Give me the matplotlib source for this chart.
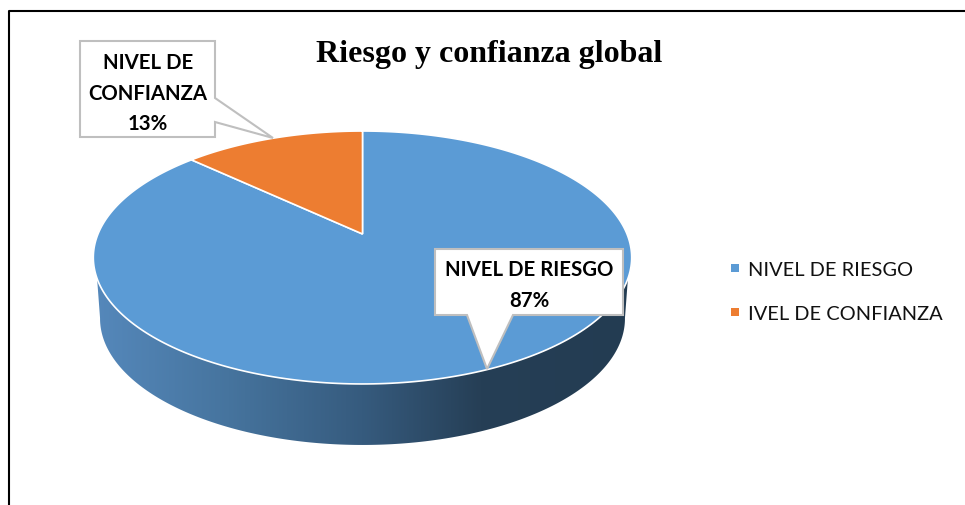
import matplotlib
matplotlib.use('Agg')
import matplotlib.pyplot as plt
import numpy as np
from matplotlib.patches import Polygon, Rectangle

TITLE = 'Riesgo y confianza global'
CATEGORIES = ['NIVEL DE RIESGO', 'NIVEL DE CONFIANZA']
LEGEND_LABELS = ['NIVEL DE RIESGO', 'IVEL DE CONFIANZA']
VALUES = [87, 13]
COLORS = ['#5B9BD5', '#ED7D31']

W, H = 965, 506
CX, CY = 362.5, 235.0
DEPTH = 61.0


def project(theta, scale=1.0, drop=0.0):
    # theta clockwise from 12 o'clock, tilted disc with a bit of perspective
    u, v = np.sin(theta), np.cos(theta)
    k = 0.1858
    d = 1 + k * v
    return CX + scale * 264.5 * u / d, CY + drop - 122.1 * v / d


fig = plt.figure(figsize=(W / 100, H / 100), dpi=100)
ax = fig.add_axes([0, 0, 1, 1])

# page frame, only top and left are visible
ax.plot([8.5, 8.5, W], [H, 12, 12], color='black', lw=1.5, solid_capstyle='butt', zorder=6)

# side wall with horizontal gradient
front = np.linspace(np.radians(110), np.radians(250), 300)
fx, fy = project(front)
back = np.linspace(np.radians(259.5), np.radians(100.5), 300)
bx, by = project(back, scale=0.975, drop=DEPTH)
wall = np.vstack([np.c_[fx, fy], np.c_[bx, by]])
grad_stops = np.array([[0x55, 0x88, 0xBB], [0x46, 0x74, 0x9E], [0x36, 0x5B, 0x7E],
                       [0x26, 0x3F, 0x56], [0x23, 0x3C, 0x52]]) / 255
grad_pos = [0.0, 0.25, 0.5, 0.72, 1.0]
xs = np.linspace(0, 1, 256)
grad = np.stack([np.interp(xs, grad_pos, grad_stops[:, i]) for i in range(3)], axis=-1)[None, :, :]
im = ax.imshow(grad, extent=[94, 631, 460, 230], aspect='auto', zorder=1)
ax.set_xlim(0, W)
ax.set_ylim(H, 0)
ax.axis('off')
im.set_clip_path(Polygon(wall, closed=True, transform=ax.transData))

# top face slices
start = 0.0
fracs = np.array(VALUES) / sum(VALUES)
for frac, col in zip(fracs, COLORS):
    th = np.linspace(start, start + frac * 2 * np.pi, 300)
    px, py = project(th)
    pts = np.vstack([[CX, CY], np.c_[px, py]])
    ax.add_patch(Polygon(pts, closed=True, facecolor=col, edgecolor='white', lw=1.2, zorder=2))
    start += frac * 2 * np.pi

# callout 87%
box = dict(facecolor='white', edgecolor='#BFBFBF', lw=1.5, zorder=4)
ax.add_patch(Polygon([(435, 250), (623, 250), (623, 316), (513, 316), (487, 370),
                      (467, 316), (435, 316)], closed=True, **box))
ax.text(529.5, 285.5, f'{CATEGORIES[0]}\n{VALUES[0]}%', ha='center', va='center', fontsize=14.7,
        fontweight='bold', family='Lato', linespacing=1.63, zorder=5)

# callout 13%
ax.add_patch(Polygon([(80, 42), (215, 42), (215, 99), (273, 139), (215, 123), (215, 138),
                      (80, 138)], closed=True, **box))
ax.text(148, 93.5, 'NIVEL DE\nCONFIANZA\n%d%%' % VALUES[1], ha='center', va='center', fontsize=14.7,
        fontweight='bold', family='Lato', linespacing=1.63, zorder=5)

# title
ax.text(489, 54, TITLE, ha='center', va='center', fontsize=23, fontweight='bold',
        family='Liberation Serif', zorder=5)

# legend
for y, y_txt, lab, col in zip([269, 313], [270, 314.5], LEGEND_LABELS, COLORS):
    ax.add_patch(Rectangle((731, y - 4), 8, 8, facecolor=col, edgecolor='none', zorder=3))
    ax.text(748, y_txt, lab, ha='left', va='center', fontsize=14.4, family='Lato', color='#111111')

fig.savefig('out.png', dpi=100)
